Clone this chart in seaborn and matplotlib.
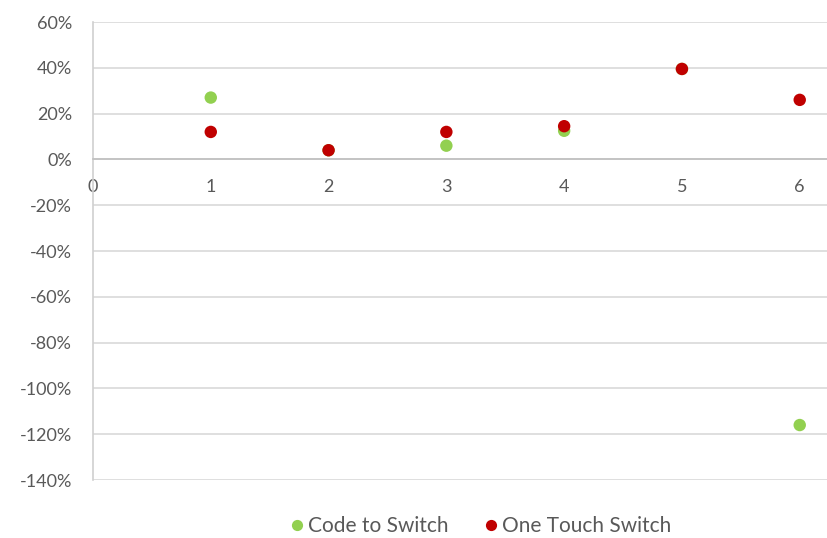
import pandas as pd
import matplotlib
matplotlib.use("Agg")
import matplotlib.pyplot as plt
import seaborn as sns
from matplotlib.ticker import FuncFormatter, MultipleLocator

# values
x_vals = [1, 2, 3, 4, 5, 6]
code_to_switch = [0.27, 0.04, 0.06, 0.125, 0.395, -1.16]
one_touch_switch = [0.12, 0.04, 0.12, 0.145, 0.395, 0.26]
series_names = ["Code to Switch", "One Touch Switch"]
colors = ["#92D050", "#C00000"]

df = pd.DataFrame({
    "x": x_vals * 2,
    "y": code_to_switch + one_touch_switch,
    "series": [series_names[0]] * 6 + [series_names[1]] * 6,
})

sns.set_style("white")
plt.rcParams["font.family"] = ["Lato", "DejaVu Sans"]

fig = plt.figure(figsize=(8.28, 5.38), dpi=100)
ax = fig.add_axes([0.1123, 0.1078, 0.8877, 0.8513])

sns.scatterplot(data=df, x="x", y="y", hue="series", palette=colors,
                s=80, edgecolor="none", ax=ax, zorder=3)

ax.set_xlim(0, 6.24)
ax.set_ylim(-1.4, 0.6)
ax.yaxis.set_major_locator(MultipleLocator(0.2))
ax.xaxis.set_major_locator(MultipleLocator(1))
ax.yaxis.set_major_formatter(FuncFormatter(lambda v, p: f"{round(v * 100):.0f}%"))
ax.grid(axis="y", color="#D9D9D9", linewidth=1.2)
ax.set_axisbelow(True)

for s in ["top", "right"]:
    ax.spines[s].set_visible(False)
ax.spines["left"].set_color("#D0D0D0")
ax.spines["left"].set_linewidth(1.2)
ax.spines["bottom"].set_position(("data", 0))
ax.spines["bottom"].set_color("#BFBFBF")
ax.spines["bottom"].set_linewidth(1.2)

ax.tick_params(axis="both", length=0, labelsize=13, colors="#595959")
ax.tick_params(axis="y", pad=15)
ax.tick_params(axis="x", pad=14)
ax.set_xlabel("")
ax.set_ylabel("")

handles, labels = ax.get_legend_handles_labels()
ax.legend(handles, labels, loc="center", bbox_to_anchor=(0.525, -0.1),
          ncol=2, frameon=False, fontsize=15, labelcolor="#595959",
          handletextpad=0.05, columnspacing=1.5, markerscale=0.9,
          handlelength=1.0, borderpad=0.2)

fig.savefig("out.png", dpi=100)
